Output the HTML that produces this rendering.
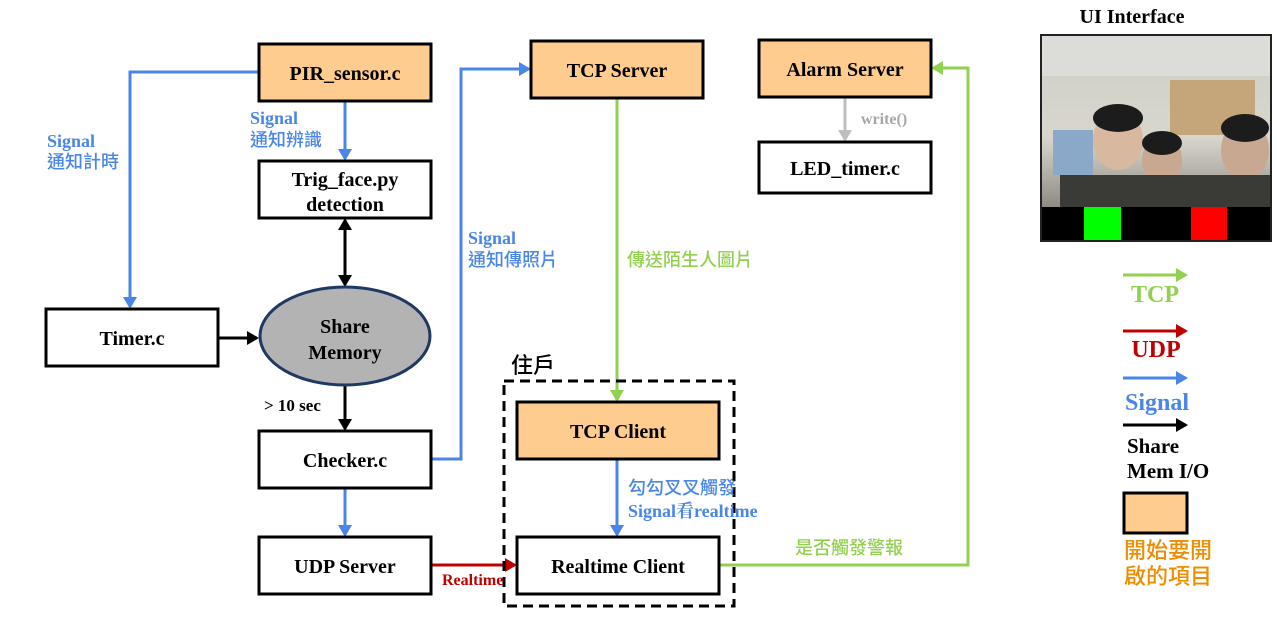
<!DOCTYPE html>
<html><head><meta charset="utf-8"><style>
html,body{margin:0;padding:0;background:#fff;width:1277px;height:628px;overflow:hidden}
svg text{font-family:"Liberation Serif","Noto Serif CJK SC",serif;font-weight:bold}
.cjk{font-family:"Liberation Sans","Noto Sans CJK TC",sans-serif;font-weight:500}
</style></head><body>
<svg width="1277" height="628" viewBox="0 0 1277 628" xmlns="http://www.w3.org/2000/svg">
<defs>
<marker id="ab" markerWidth="12" markerHeight="14" refX="10" refY="7" orient="auto" markerUnits="userSpaceOnUse"><path d="M0,0 L12,7 L0,14 z" fill="#4a86e8"/></marker>
<marker id="ak" markerWidth="12" markerHeight="14" refX="10" refY="7" orient="auto-start-reverse" markerUnits="userSpaceOnUse"><path d="M0,0 L12,7 L0,14 z" fill="#000"/></marker>
<marker id="ag" markerWidth="12" markerHeight="14" refX="10" refY="7" orient="auto" markerUnits="userSpaceOnUse"><path d="M0,0 L12,7 L0,14 z" fill="#92d050"/></marker>
<marker id="ar" markerWidth="12" markerHeight="14" refX="10" refY="7" orient="auto" markerUnits="userSpaceOnUse"><path d="M0,0 L12,7 L0,14 z" fill="#c00000"/></marker>
<marker id="ay" markerWidth="12" markerHeight="14" refX="10" refY="7" orient="auto" markerUnits="userSpaceOnUse"><path d="M0,0 L12,7 L0,14 z" fill="#bfbfbf"/></marker>
<linearGradient id="wall" x1="0" y1="0" x2="0" y2="1"><stop offset="0" stop-color="#cfcfc8"/><stop offset="0.5" stop-color="#d8d6cc"/><stop offset="1" stop-color="#6a6660"/></linearGradient>
</defs>

<g fill="none" stroke-width="3">
<polyline points="259,72 130,72 130,307" stroke="#4a86e8" marker-end="url(#ab)"/>
<line x1="345" y1="101" x2="345" y2="159" stroke="#4a86e8" marker-end="url(#ab)"/>
<line x1="345" y1="220" x2="345" y2="285" stroke="#000" marker-start="url(#ak)" marker-end="url(#ak)"/>
<line x1="218" y1="338" x2="257" y2="338" stroke="#000" marker-end="url(#ak)"/>
<line x1="345" y1="386" x2="345" y2="429" stroke="#000" marker-end="url(#ak)"/>
<polyline points="431,459 461,459 461,69 529,69" stroke="#4a86e8" marker-end="url(#ab)"/>
<line x1="345" y1="488" x2="345" y2="535" stroke="#4a86e8" marker-end="url(#ab)"/>
<line x1="431" y1="565" x2="515" y2="565" stroke="#c00000" marker-end="url(#ar)"/>
<line x1="617" y1="98" x2="617" y2="400" stroke="#92d050" marker-end="url(#ag)"/>
<line x1="617" y1="459" x2="617" y2="535" stroke="#4a86e8" marker-end="url(#ab)"/>
<polyline points="719,565 968,565 968,68 933,68" stroke="#92d050" marker-end="url(#ag)"/>
<line x1="845" y1="97" x2="845" y2="140" stroke="#bfbfbf" marker-end="url(#ay)"/>
</g>

<rect x="504" y="381" width="230" height="225" fill="none" stroke="#000" stroke-width="3" stroke-dasharray="10,6"/>
<text x="511" y="373" font-size="22" class="cjk" fill="#000">住戶</text>

<g stroke="#000" stroke-width="3">
<rect x="259" y="44" width="172" height="57" fill="#ffcc8f"/>
<rect x="259" y="161" width="172" height="57" fill="#fff"/>
<rect x="46" y="309" width="172" height="57" fill="#fff"/>
<rect x="259" y="431" width="172" height="57" fill="#fff"/>
<rect x="259" y="537" width="172" height="57" fill="#fff"/>
<rect x="531" y="41" width="172" height="57" fill="#ffcc8f"/>
<rect x="759" y="40" width="172" height="57" fill="#ffcc8f"/>
<rect x="759" y="142" width="172" height="51" fill="#fff"/>
<rect x="517" y="402" width="202" height="57" fill="#ffcc8f"/>
<rect x="517" y="537" width="202" height="57" fill="#fff"/>
</g>
<ellipse cx="345" cy="336" rx="85" ry="49" fill="#b3b3b3" stroke="#1f3864" stroke-width="3"/>

<g font-size="20" text-anchor="middle" fill="#000">
<text x="345" y="80">PIR_sensor.c</text>
<text x="345" y="186">Trig_face.py</text>
<text x="345" y="211">detection</text>
<text x="132" y="345">Timer.c</text>
<text x="345" y="333">Share</text>
<text x="345" y="359">Memory</text>
<text x="345" y="467">Checker.c</text>
<text x="345" y="573">UDP Server</text>
<text x="617" y="77">TCP Server</text>
<text x="845" y="76">Alarm Server</text>
<text x="845" y="175">LED_timer.c</text>
<text x="618" y="438">TCP Client</text>
<text x="618" y="573">Realtime Client</text>
</g>

<g font-size="18" fill="#4a86e8">
<text x="47" y="147">Signal</text>
<text x="47" y="168" class="cjk">通知計時</text>
<text x="250" y="124">Signal</text>
<text x="250" y="146" class="cjk">通知辨識</text>
<text x="468" y="244">Signal</text>
<text x="468" y="266" class="cjk">通知傳照片</text>
<text x="628" y="494" class="cjk">勾勾叉叉觸發</text>
<text x="628" y="517">Signal看realtime</text>
</g>
<text x="627" y="266" class="cjk" font-size="18" fill="#92d050">傳送陌生人圖片</text>
<text x="795" y="554" class="cjk" font-size="18" fill="#92d050">是否觸發警報</text>
<text x="442" y="585" font-size="16" fill="#c00000">Realtime</text>
<text x="861" y="124" font-size="16" fill="#a6a6a6">write()</text>
<text x="264" y="411" font-size="17" fill="#000">&gt;  10 sec</text>

<text x="1132" y="23" font-size="20" text-anchor="middle" fill="#000">UI Interface</text>
<rect x="1041" y="35" width="230" height="206" fill="url(#wall)" stroke="#222" stroke-width="2"/>
<rect x="1042" y="36" width="228" height="40" fill="#dcdcd8"/>
<rect x="1170" y="80" width="85" height="55" fill="#c4a67a"/>
<rect x="1053" y="130" width="40" height="45" fill="#8aa8c8"/>
<ellipse cx="1118" cy="140" rx="25" ry="30" fill="#d9b8a0"/>
<ellipse cx="1118" cy="118" rx="25" ry="14" fill="#1c1c1c"/>
<ellipse cx="1162" cy="160" rx="20" ry="25" fill="#c8a890"/>
<ellipse cx="1162" cy="143" rx="20" ry="12" fill="#1c1c1c"/>
<ellipse cx="1245" cy="150" rx="24" ry="30" fill="#c8a890"/>
<ellipse cx="1245" cy="128" rx="24" ry="14" fill="#1c1c1c"/>
<rect x="1060" y="175" width="210" height="32" fill="#3a3a36"/>
<rect x="1042" y="207" width="228" height="33" fill="#000"/>
<rect x="1084" y="207" width="37" height="33" fill="#00ff00"/>
<rect x="1191" y="207" width="36" height="33" fill="#ff0000"/>

<g stroke-width="3" fill="none">
<line x1="1123" y1="275" x2="1186" y2="275" stroke="#92d050" marker-end="url(#ag)"/>
<line x1="1123" y1="331" x2="1186" y2="331" stroke="#c00000" marker-end="url(#ar)"/>
<line x1="1123" y1="378" x2="1186" y2="378" stroke="#4a86e8" marker-end="url(#ab)"/>
<line x1="1123" y1="425" x2="1186" y2="425" stroke="#000" marker-end="url(#ak)"/>
</g>
<text x="1155" y="302" font-size="24" text-anchor="middle" fill="#92d050">TCP</text>
<text x="1156" y="357" font-size="24" text-anchor="middle" fill="#c00000">UDP</text>
<text x="1157" y="410" font-size="24" text-anchor="middle" fill="#4a86e8">Signal</text>
<text x="1127" y="453" font-size="21" fill="#000">Share</text>
<text x="1127" y="478" font-size="21" fill="#000">Mem I/O</text>
<rect x="1124" y="493" width="63" height="40" fill="#ffcc8f" stroke="#000" stroke-width="3"/>
<text x="1124" y="558" font-size="22" class="cjk" fill="#f08c00">開始要開</text>
<text x="1124" y="584" font-size="22" class="cjk" fill="#f08c00">啟的項目</text>
</svg>
</body></html>
